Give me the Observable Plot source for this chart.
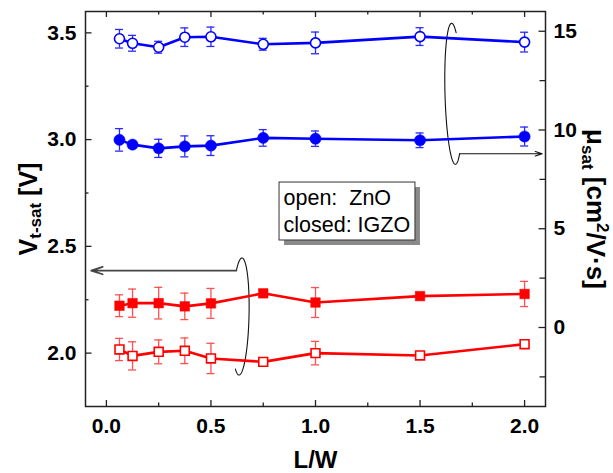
<!DOCTYPE html>
<html><head><meta charset="utf-8">
<script src="https://cdn.jsdelivr.net/npm/d3@7"></script>
<script src="https://cdn.jsdelivr.net/npm/@observablehq/plot@0.6"></script>
<style>body{margin:0;background:#fff}</style>
</head><body><div id="chart"></div>
<script>
// ---- data ----
const lw = [0.0625, 0.125, 0.25, 0.375, 0.5, 0.75, 1.0, 1.5, 2.0];
const muZnO = [14.62, 14.39, 14.19, 14.70, 14.72, 14.34, 14.41, 14.73, 14.45];
const muZnOErr = [0.47, 0.40, 0.30, 0.47, 0.49, 0.30, 0.55, 0.45, 0.50];
const muIGZO = [9.50, 9.26, 9.07, 9.17, 9.21, 9.60, 9.56, 9.48, 9.67];
const muIGZOErr = [0.57, 0.15, 0.46, 0.53, 0.50, 0.42, 0.39, 0.37, 0.48];
const vIGZO = [2.222, 2.234, 2.234, 2.219, 2.233, 2.280, 2.237, 2.267, 2.277];
const vIGZOErr = [0.051, 0.066, 0.074, 0.062, 0.070, 0.015, 0.070, 0.010, 0.059];
const vZnO = [2.017, 1.987, 2.006, 2.011, 1.975, 1.959, 2.000, 1.989, 2.042];
const vZnOErr = [0.052, 0.066, 0.056, 0.060, 0.071, 0.010, 0.055, 0.010, 0.010];

const xTicks = [0, 0.5, 1.0, 1.5, 2.0];
const xMinor = [0.25, 0.75, 1.25, 1.75];
const vTicks = [2.0, 2.5, 3.0, 3.5];
const vMinor = [2.25, 2.75, 3.25];
const muTicks = [0, 5, 10, 15];
const muMinor = [-2.5, 2.5, 7.5, 12.5];
const xDomain = [-0.1, 2.1];
const vDomain = [1.75, 3.6];
const muDomain = [-4, 16];

const xTitle = "L/W";
const leftTitle = [["V", 0, 25], ["t-sat", 4, 17], [" [V]", -4, 25]];
const rightTitle = [["\u03bc", 0, 26], ["sat", 5, 17], [" [cm", -5, 26], ["2", -10, 17], ["/V\u00b7s]", 10, 26]];
const legendLines = ["open:\u00a0 ZnO", "closed: IGZO"];

// annotation anchors (data units of x and left axis)
const legendBox = {x1: 0.828, x2: 1.478, y1: 2.5275, y2: 2.799};
const legendTextPos = {x: 0.847, y: [2.724, 2.598]};
const muEllipse = {cx: 1.660, cy: 3.2146, rx: 0.0407, ry: 0.3302, t0: 60, t1: 301.7, tilt: -0.009};
const muArrowTip = 2.084;
const vEllipse = {cx: 0.6413, cy: 2.1715, rx: 0.0407, ry: 0.274, t0: 128.2, t1: -116, tilt: 0.007};
const vArrowTip = -0.0727;

// ---- helpers ----
const toV = m => vDomain[0] + (m - muDomain[0]) * (vDomain[1] - vDomain[0]) / (muDomain[1] - muDomain[0]);
const fromV = v => muDomain[0] + (v - vDomain[0]) * (muDomain[1] - muDomain[0]) / (vDomain[1] - vDomain[0]);
const ident = d => d;
const rows = (ys, errs, f) => lw.map((x, i) => ({x, y: f(ys[i]), lo: f(ys[i] - errs[i]), hi: f(ys[i] + errs[i])}));
const ellipsePts = e => d3.range(0, 121).map(k => {
  const t = (e.t0 + (e.t1 - e.t0) * k / 120) * Math.PI / 180;
  return {x: e.cx + e.rx * Math.cos(t) + e.tilt * Math.sin(t), y: e.cy + e.ry * Math.sin(t)};
});
const muEll = ellipsePts(muEllipse);
const vEll = ellipsePts(vEllipse);
const muEnd = muEll[muEll.length - 1];
const vStart = vEll[0];

const series = [
  {data: rows(vZnO, vZnOErr, ident), color: "#ff0000", bar: "#ff5050", symbol: "square", open: true, r: 5},
  {data: rows(vIGZO, vIGZOErr, ident), color: "#ff0000", bar: "#ff5050", symbol: "square", open: false, r: 5.4},
  {data: rows(muZnO, muZnOErr, toV), color: "#0000ff", bar: "#2a2aff", symbol: "circle", open: true, r: 5},
  {data: rows(muIGZO, muIGZOErr, toV), color: "#0000ff", bar: "#2a2aff", symbol: "circle", open: false, r: 5.6}
];

const frameColor = "#222";
const marks = [];
// ticks (inward)
const tk = {stroke: frameColor, strokeWidth: 1.3};
marks.push(Plot.ruleX(xTicks, {x: ident, y1: vDomain[0], y2: vDomain[0], insetTop: -6, ...tk}));
marks.push(Plot.ruleX(xMinor, {x: ident, y1: vDomain[0], y2: vDomain[0], insetTop: -3.5, ...tk}));
marks.push(Plot.ruleX(xTicks, {x: ident, y1: vDomain[1], y2: vDomain[1], insetBottom: -6, ...tk}));
marks.push(Plot.ruleX(xMinor, {x: ident, y1: vDomain[1], y2: vDomain[1], insetBottom: -3.5, ...tk}));
marks.push(Plot.ruleY(vTicks, {y: ident, x1: xDomain[0], x2: xDomain[0], insetRight: -6.5, ...tk}));
marks.push(Plot.ruleY(vMinor, {y: ident, x1: xDomain[0], x2: xDomain[0], insetRight: -3.5, ...tk}));
marks.push(Plot.ruleY(muTicks.map(toV), {y: ident, x1: xDomain[1], x2: xDomain[1], insetLeft: -6.5, ...tk}));
marks.push(Plot.ruleY(muMinor.map(toV), {y: ident, x1: xDomain[1], x2: xDomain[1], insetLeft: -5.5, ...tk}));

// axes labels
const axFont = {fontSize: 21, fontWeight: "bold", fill: "black"};
marks.push(Plot.axisX(xTicks, {anchor: "bottom", tickSize: 0, tickPadding: 12, tickFormat: d3.format(".1f"), label: null, ...axFont}));
marks.push(Plot.axisY(vTicks, {anchor: "left", tickSize: 0, tickPadding: 9, tickFormat: d3.format(".1f"), label: null, ...axFont}));
marks.push(Plot.axisY(muTicks.map(toV), {anchor: "right", tickSize: 0, tickPadding: 8, tickFormat: v => String(Math.round(fromV(v))), label: null, ...axFont}));

// legend box
marks.push(Plot.rect([legendBox], {x1: "x1", x2: "x2", y1: "y1", y2: "y2", fill: "#8a8a8a", dx: 5, dy: 5}));
marks.push(Plot.rect([legendBox], {x1: "x1", x2: "x2", y1: "y1", y2: "y2", fill: "white", stroke: "#333", strokeWidth: 1}));
marks.push(Plot.text(legendLines, {x: legendTextPos.x, y: (d, i) => legendTextPos.y[i], text: ident, textAnchor: "start", fontSize: 21.5, fill: "black"}));

// annotations
marks.push(Plot.line(muEll, {x: "x", y: "y", stroke: "#111", strokeWidth: 1.1}));
marks.push(Plot.line(vEll, {x: "x", y: "y", stroke: "#111", strokeWidth: 1.1}));
marks.push(Plot.arrow([muEnd], {x1: "x", y1: "y", x2: () => muArrowTip, y2: "y", stroke: "#111", strokeWidth: 1.2, headLength: 9, headAngle: 36}));
marks.push(Plot.arrow([vStart], {x1: "x", y1: "y", x2: () => vArrowTip, y2: "y", stroke: "#444", strokeWidth: 1.8, headLength: 10, headAngle: 36}));

// series
for (const s of series) {
  marks.push(Plot.line(s.data, {x: "x", y: "y", stroke: s.color, strokeWidth: 2.6}));
  marks.push(Plot.ruleX(s.data, {x: "x", y1: "lo", y2: "hi", stroke: s.bar, strokeWidth: 1.3}));
  marks.push(Plot.ruleY(s.data, {y: "lo", x1: "x", x2: "x", insetLeft: -4, insetRight: -4, stroke: s.bar, strokeWidth: 1.3}));
  marks.push(Plot.ruleY(s.data, {y: "hi", x1: "x", x2: "x", insetLeft: -4, insetRight: -4, stroke: s.bar, strokeWidth: 1.3}));
  marks.push(Plot.dot(s.data, {x: "x", y: "y", symbol: s.symbol, r: s.r,
    fill: s.open ? "white" : s.color, stroke: s.color, strokeWidth: s.open ? 1.6 : 0.5}));
}

// frame & titles (placeholders replaced by rich text below)
const LT = "__LEFT_TITLE__", RT = "__RIGHT_TITLE__";
const titleStyle = {textAnchor: "middle", lineAnchor: "middle", fontWeight: "bold", fill: "black"};
marks.push(Plot.frame({stroke: frameColor, strokeWidth: 1.5}));
marks.push(Plot.text([xTitle], {text: ident, frameAnchor: "bottom", dy: 54, fontSize: 24, ...titleStyle}));
marks.push(Plot.text([LT], {text: ident, frameAnchor: "left", dx: -57, rotate: -90, fontSize: 25, ...titleStyle}));
marks.push(Plot.text([RT], {text: ident, frameAnchor: "right", dx: 50, rotate: 90, fontSize: 26, ...titleStyle}));

const chart = Plot.plot({
  width: 613, height: 473,
  marginLeft: 85, marginRight: 68, marginTop: 11, marginBottom: 67,
  x: {domain: xDomain},
  y: {domain: vDomain},
  style: {fontFamily: "'Liberation Sans', Arial, sans-serif", background: "white", color: "black", overflow: "visible"},
  marks
});
document.getElementById("chart").appendChild(chart);

// rich text for axis titles (subscripts / superscripts)
const ns = "http://www.w3.org/2000/svg";
function rich(placeholder, parts) {
  const t = Array.from(chart.querySelectorAll("text")).find(el => el.textContent === placeholder);
  if (!t) return;
  t.textContent = "";
  t.setAttribute("text-anchor", "middle");
  for (const [txt, dy, fs] of parts) {
    const sp = document.createElementNS(ns, "tspan");
    sp.textContent = txt;
    if (dy) sp.setAttribute("dy", dy);
    sp.setAttribute("font-size", fs);
    sp.setAttribute("font-weight", "bold");
    t.appendChild(sp);
  }
}
rich(LT, leftTitle);
rich(RT, rightTitle);
</script>
</body></html>
